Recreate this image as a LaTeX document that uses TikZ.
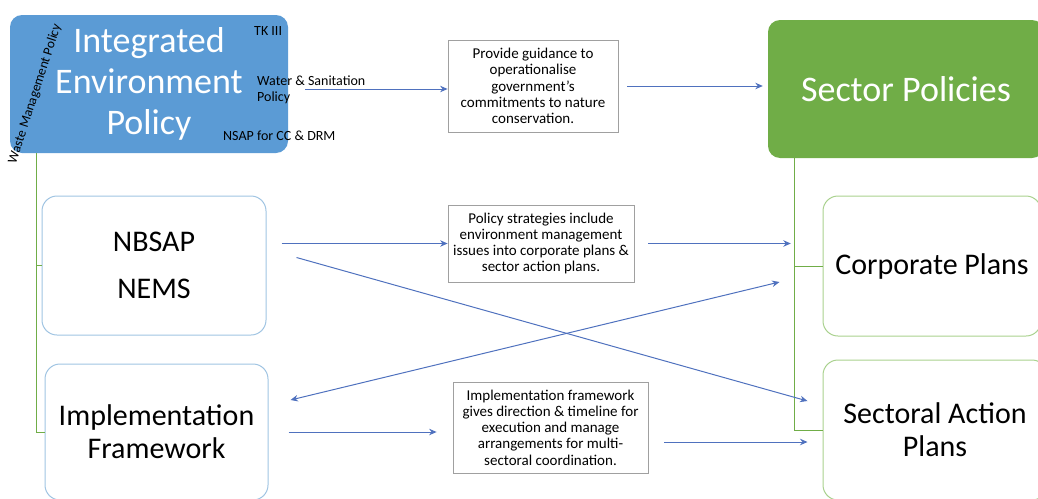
\documentclass[tikz,border=0pt]{standalone}
\usepackage{fontspec}
\setmainfont{Carlito}
\usetikzlibrary{arrows.meta}
\definecolor{iepblue}{RGB}{91,155,213}
\definecolor{sectorgreen}{RGB}{112,173,71}
\definecolor{arrowblue}{RGB}{79,113,190}
\definecolor{planblue}{RGB}{160,196,226}
\definecolor{plangreen}{RGB}{169,209,142}
\definecolor{notegray}{RGB}{160,160,160}

\begin{document}
\begin{tikzpicture}[x=1pt,y=-1pt,
    bigbox/.style={rounded corners=12pt, text=white, font=\fontsize{36}{41}\selectfont, align=center, inner sep=0pt},
    planbox/.style={draw, rounded corners=15pt, line width=1pt, font=\fontsize{30}{33}\selectfont, align=center, inner sep=0pt},
    notebox/.style={draw=notegray, line width=0.8pt, font=\fontsize{15}{16.2}\selectfont, align=center, inner sep=0pt},
    tag/.style={font=\fontsize{14}{16}\selectfont, align=left, inner sep=0pt},
    arr/.style={draw=arrowblue, line width=1pt, -{Stealth[length=7.5pt,width=6.5pt]}},
    darr/.style={draw=arrowblue, line width=1pt, {Stealth[length=7.5pt,width=6.5pt]}-{Stealth[length=7.5pt,width=6.5pt]}},
    bus/.style={draw=sectorgreen, line width=0.8pt}]
    \useasboundingbox (0,0) rectangle (1038,498);
    \clip (0,0) rectangle (1038,498);
    \node[bigbox, fill=iepblue, minimum width=278pt, minimum height=138pt] (iep) at (149,84) {Integrated\\Environment\\Policy};
    \node[bigbox, fill=sectorgreen, minimum width=276pt, minimum height=138pt] (sector) at (906,89) {Sector Policies};
    \node[planbox, draw=planblue, minimum width=224pt, minimum height=139pt] (nbsap) at (154,265.5) {NBSAP\\[14pt]NEMS};
    \node[planbox, draw=planblue, minimum width=223pt, minimum height=136pt] (impl) at (156.5,432) {Implementation\\Framework};
    \node[planbox, draw=plangreen, minimum width=218pt, minimum height=140pt] (corp) at (932,266) {Corporate Plans};
    \node[planbox, draw=plangreen, minimum width=224pt, minimum height=140pt] (sect) at (935,430) {Sectoral Action\\Plans};
    \node[notebox, minimum width=170pt, minimum height=92pt] (guide) at (533,86)
        {Provide guidance to\\operationalise\\government's\\commitments to nature\\conservation.};
    \node[notebox, minimum width=186pt, minimum height=77pt] (strat) at (541,243.5)
        {Policy strategies include\\environment management\\issues into corporate plans \&\\sector action plans.};
    \node[notebox, minimum width=195pt, minimum height=91pt] (frame) at (550.5,427.5)
        {Implementation framework\\gives direction \& timeline for\\execution and manage\\arrangements for multi-\\sectoral coordination.};
    \node[tag, anchor=west] (tk) at (254,31) {TK III};
    \node[tag, anchor=west] (water) at (257,90) {Water \& Sanitation\\Policy};
    \node[tag, anchor=west] (nsap) at (223,136) {NSAP for CC \& DRM};
    \node[tag, font=\fontsize{13.5}{16}\selectfont, rotate=72] (waste) at (35,94) {Waste Management Policy};
    \coordinate (lbus) at ([xshift=27pt]iep.south west);
    \coordinate (rbus) at ([xshift=27pt]sector.south west);
    \draw[bus] (lbus) |- (impl.west);
    \draw[bus] (lbus |- nbsap.west) -- (nbsap.west);
    \draw[bus] (rbus) |- (sect.west);
    \draw[bus] (rbus |- corp.west) -- (corp.west);
    \coordinate (wline) at (305,89);
    \draw[arr] (wline) -- (wline -| guide.west);
    \draw[arr, shorten <=9pt, shorten >=5pt] (guide.east) -- (guide.east -| sector.west);
    \draw[arr, shorten <=15pt] (nbsap.east |- strat.west) -- (strat.west);
    \draw[arr, shorten <=14pt, shorten >=4pt] (strat.east) -- (strat.east -| rbus);
    \draw[arr] ([shift={(30,-8)}]nbsap.east) -- ([shift={(-15,-29)}]sect.west);
    \draw[darr] ([shift={(22,-32)}]impl.east) -- ([shift={(-43,16)}]corp.west);
    \draw[arr, shorten <=20pt, shorten >=16pt] (impl.east) -- (impl.east -| frame.west);
    \coordinate (fout) at ([shift={(16,14.5)}]frame.east);
    \draw[arr, shorten >=15pt] (fout) -- (fout -| sect.west);
\end{tikzpicture}
\end{document}
